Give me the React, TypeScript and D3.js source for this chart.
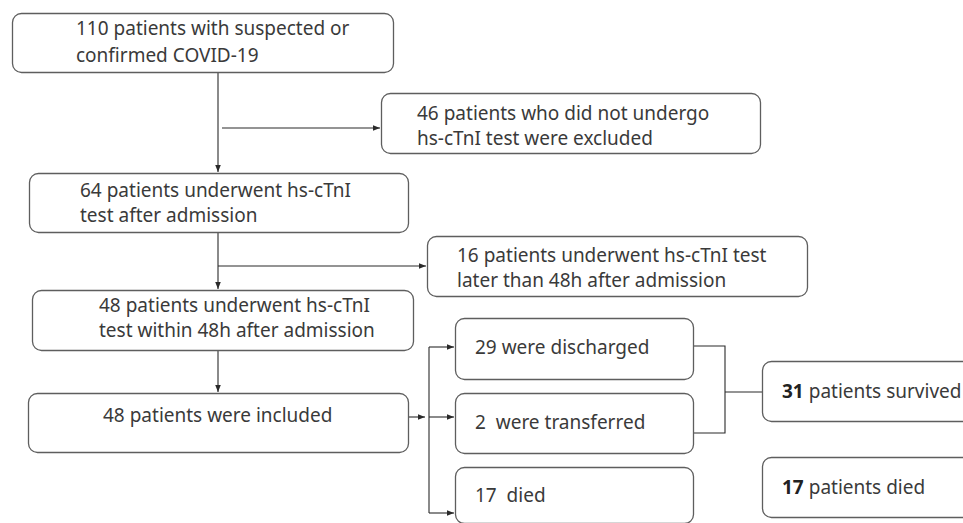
import React from "react";
import * as d3 from "d3";

// ---- data ----
const stageCounts = [110, 64, 48, 48];
const stageTexts = [
  ["{n} patients with suspected or", "confirmed COVID-19"],
  ["{n} patients underwent hs-cTnI", "test after admission"],
  ["{n} patients underwent hs-cTnI", "test within 48h after admission"],
  ["{n} patients were included"],
];
const exclusionCounts = [46, 16];
const exclusionTexts = [
  ["{n} patients who did not undergo", "hs-cTnI test were excluded"],
  ["{n} patients underwent hs-cTnI test", "later than 48h after admission"],
];
const outcomeCounts = [29, 2, 17];
const outcomeTexts = ["{n} were discharged", "{n}  were transferred", "{n}  died"];
const summaryCounts = [31, 17];
const summaryTexts = [" patients survived", " patients died"];

// ---- layout (positions only) ----
const W = 963, H = 523;
const stageBoxes = [
  { x: 12, y: 13, w: 381, h: 59, tx: 76, ty: [35, 62] },
  { x: 29, y: 173, w: 379, h: 59, tx: 80, ty: [197, 222] },
  { x: 32, y: 290, w: 381, h: 60, tx: 99, ty: [312, 337] },
  { x: 28, y: 393, w: 380, h: 59, tx: 103, ty: [422] },
];
const exclusionBoxes = [
  { x: 381, y: 93, w: 379, h: 60, tx: 417, ty: [120, 145], ay: 128, ax0: 222 },
  { x: 427, y: 236, w: 380, h: 60, tx: 457, ty: [262, 287], ay: 266, ax0: 218 },
];
const outcomeBoxes = [
  { x: 455, y: 318, w: 238, h: 61, tx: 475, ty: 354, ay: 347 },
  { x: 455, y: 393, w: 238, h: 60, tx: 475, ty: 429, ay: 417 },
  { x: 455, y: 467, w: 238, h: 56, tx: 475, ty: 502, ay: 513 },
];
const summaryBoxes = [
  { x: 762, y: 361, w: 220, h: 60, tx: 782, ty: 398 },
  { x: 762, y: 457, w: 220, h: 60, tx: 782, ty: 494 },
];
const spineX = 218;
const busX = 429;
const bracket = { x0: 693, x1: 725, y0: 346, y1: 433, yOut: 392, xOut: 762 };

const FONT = "'Noto Sans', 'DejaVu Sans', sans-serif";
const TEXT = "#3a3a3a";
const BOX = "#5e5e5e";
const LINE = "#2a2a2a";

const fill = (t: string, n: number) => t.replace("{n}", String(n));

export default function App() {
  const line = d3.line<[number, number]>();
  const box = (b: { x: number; y: number; w: number; h: number }, k: string) => (
    <rect key={k} x={b.x + 0.5} y={b.y + 0.5} width={b.w} height={b.h} rx={9} ry={9}
      fill="white" stroke={BOX} strokeWidth={1.3} />
  );
  const arrows: [number, number][][] = [];
  for (let i = 0; i < stageBoxes.length - 1; i++) {
    arrows.push([[spineX, stageBoxes[i].y + stageBoxes[i].h], [spineX, stageBoxes[i + 1].y - 1]]);
  }
  exclusionBoxes.forEach((b) => arrows.push([[b.ax0, b.ay], [b.x - 1, b.ay]]));
  const inc = stageBoxes[3];
  arrows.push([[inc.x + inc.w, outcomeBoxes[1].ay], [busX - 4, outcomeBoxes[1].ay]]);
  outcomeBoxes.forEach((b) => arrows.push([[busX, b.ay], [b.x - 1, b.ay]]));

  return (
    <div style={{ position: "absolute", left: 0, top: 0 }}>
      <svg width={W} height={H} style={{ display: "block", background: "white" }}>
        <defs>
          <marker id="ah" viewBox="0 0 10 10" refX="10" refY="5" markerWidth="7" markerHeight="7"
            markerUnits="userSpaceOnUse" orient="auto">
            <path d="M0,1 L10,5 L0,9 z" fill={LINE} />
          </marker>
        </defs>
        {arrows.map((a, i) => (
          <path key={"a" + i} d={line(a) || ""} stroke={LINE} strokeWidth={1.1} fill="none" markerEnd="url(#ah)" />
        ))}
        <path d={line([[busX, outcomeBoxes[0].ay], [busX, outcomeBoxes[2].ay]]) || ""} stroke={LINE} strokeWidth={1.1} fill="none" />
        <path d={
          (line([[bracket.x0, bracket.y0], [bracket.x1, bracket.y0], [bracket.x1, bracket.y1], [bracket.x0, bracket.y1]]) || "") +
          (line([[bracket.x1, bracket.yOut], [bracket.xOut, bracket.yOut]]) || "")
        } stroke={LINE} strokeWidth={1.1} fill="none" />

        {stageBoxes.map((b, i) => box(b, "s" + i))}
        {exclusionBoxes.map((b, i) => box(b, "e" + i))}
        {outcomeBoxes.map((b, i) => box(b, "o" + i))}
        {summaryBoxes.map((b, i) => box(b, "m" + i))}

        <g fontFamily={FONT} fontSize={19} fill={TEXT}>
          {stageBoxes.map((b, i) =>
            stageTexts[i].map((t, j) => (
              <text key={`st${i}${j}`} x={b.tx} y={b.ty[j]}>{fill(t, stageCounts[i])}</text>
            ))
          )}
          {exclusionBoxes.map((b, i) =>
            exclusionTexts[i].map((t, j) => (
              <text key={`et${i}${j}`} x={b.tx} y={b.ty[j]}>{fill(t, exclusionCounts[i])}</text>
            ))
          )}
          {outcomeBoxes.map((b, i) => (
            <text key={`ot${i}`} x={b.tx} y={b.ty} style={{ whiteSpace: "pre" }}>{fill(outcomeTexts[i], outcomeCounts[i])}</text>
          ))}
          {summaryBoxes.map((b, i) => (
            <text key={`mt${i}`} x={b.tx} y={b.ty} style={{ whiteSpace: "pre" }}>
              <tspan fontWeight="bold" fill="#222">{summaryCounts[i]}</tspan>
              <tspan>{summaryTexts[i]}</tspan>
            </text>
          ))}
        </g>
      </svg>
    </div>
  );
}
